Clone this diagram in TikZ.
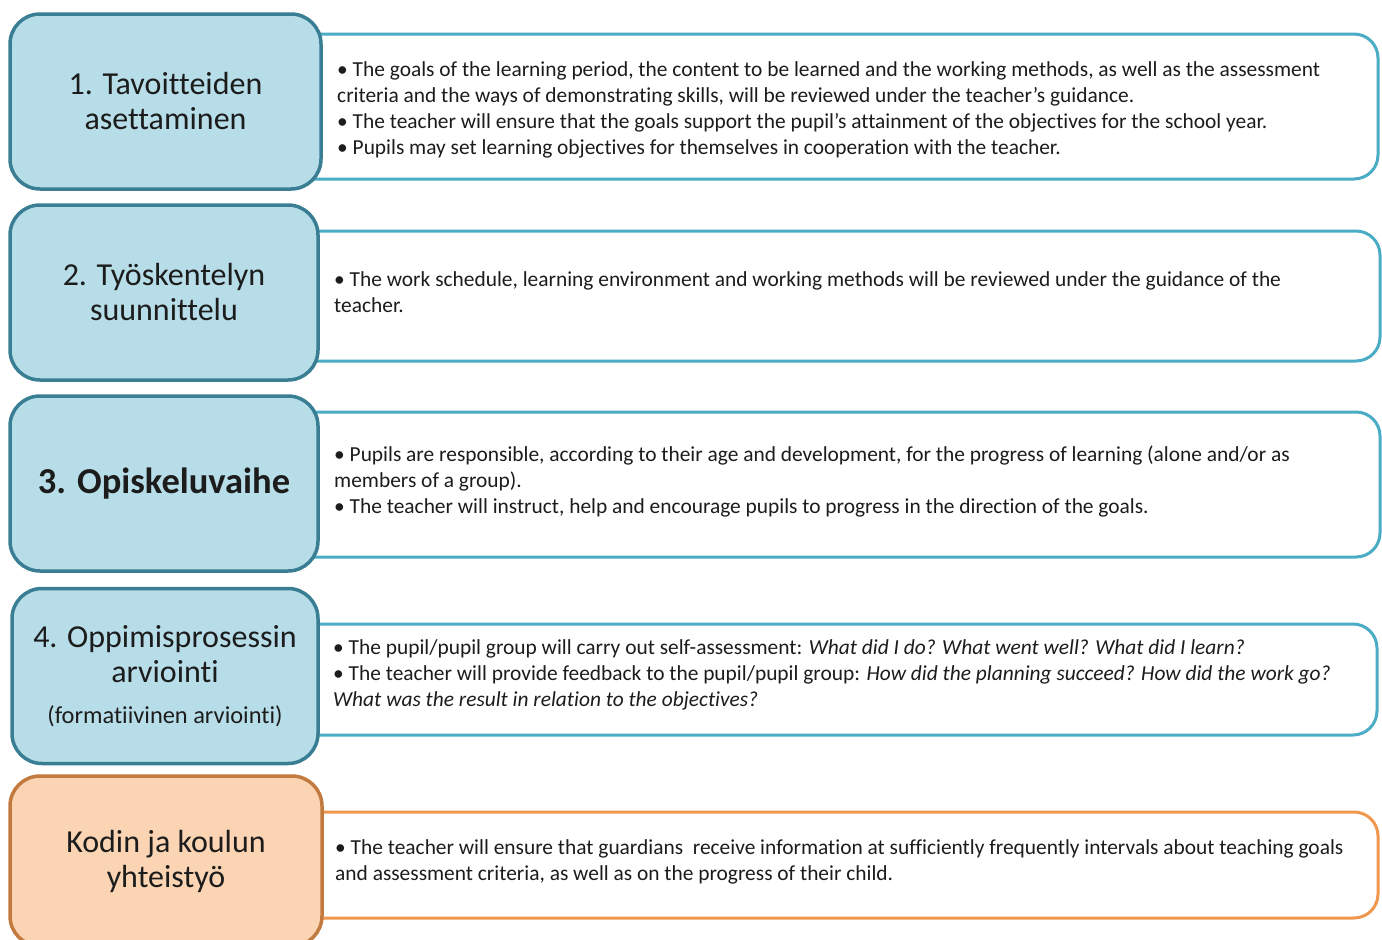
\documentclass[tikz,border=0pt]{standalone}
\usepackage{fontspec}
\setmainfont{Carlito}[Ligatures={NoCommon}]
\definecolor{lfill}{HTML}{B7DDE8}
\definecolor{lbord}{HTML}{3A7E94}
\definecolor{rbord}{HTML}{4BACC6}
\definecolor{ofill}{HTML}{FBD4B4}
\definecolor{obord}{HTML}{C27A3E}
\definecolor{rorange}{HTML}{F0974E}
\definecolor{txt}{HTML}{1C1C1C}
\begin{document}
\begin{tikzpicture}[x=1pt,y=-1pt,
  lbox/.style={draw=lbord, fill=lfill, line width=3.5pt, rounded corners=30pt, align=center, inner sep=0pt, text=txt, font=\fontsize{32}{35}\selectfont},
  obox/.style={lbox, draw=obord, fill=ofill},
  rbox/.style={draw=rbord, fill=white, line width=3pt, rounded corners=24pt, inner sep=0pt},
  orbox/.style={rbox, draw=rorange},
  rtext/.style={anchor=north west, align=left, inner sep=0pt, text=txt, font=\fontsize{21.4}{26}\selectfont}]
\useasboundingbox[fill=white] (0,0) rectangle (1382,940);
% right boxes
\node[rbox, minimum width=1128pt, minimum height=145pt] (r1) at (814,106.5) {};
\node[rbox, minimum width=1130pt, minimum height=130pt] (r2) at (815,296) {};
\node[rbox, minimum width=1130pt, minimum height=145pt] (r3) at (815,484.5) {};
\node[rbox, minimum width=1127pt, minimum height=111pt] (r4) at (813.5,679.5) {};
\node[orbox, minimum width=1128pt, minimum height=106pt] (r5) at (814,865) {};
% left boxes
\node[lbox, minimum width=311pt, minimum height=175pt] (l1) at (165.5,101.5) {1. Tavoitteiden\\asettaminen};
\node[lbox, minimum width=308pt, minimum height=175pt] (l2) at (164,292.5) {2. Työskentelyn\\suunnittelu};
\node[lbox, minimum width=308pt, minimum height=175pt, font=\bfseries\fontsize{36.5}{40}\selectfont] (l3) at (164,483.5) {3. Opiskeluvaihe};
\node[lbox, minimum width=306pt, minimum height=175pt] (l4) at (165,676) {4. Oppimisprosessin\\arviointi\\[6pt]{\fontsize{24.4}{28}\selectfont (formatiivinen arviointi)}};
\node[obox, minimum width=312pt, minimum height=170pt] (l5) at (166,861) {Kodin ja koulun\\yhteistyö};
% texts
\node[rtext] (t1) at (337,61) {• The goals of the learning period, the content to be learned and the working methods, as well as the assessment\\criteria and the ways of demonstrating skills, will be reviewed under the teacher’s guidance.\\• The teacher will ensure that the goals support the pupil’s attainment of the objectives for the school year.\\• Pupils may set learning objectives for themselves in cooperation with the teacher.};
\node[rtext] (t2) at (334,271) {• The work schedule, learning environment and working methods will be reviewed under the guidance of the\\teacher.};
\node[rtext] (t3) at (334,446) {• Pupils are responsible, according to their age and development, for the progress of learning (alone and/or as\\members of a group).\\• The teacher will instruct, help and encourage pupils to progress in the direction of the goals.};
\node[rtext] (t4) at (333,639) {• The pupil/pupil group will carry out self-assessment: \textit{What did I do? What went well? What did I learn?}\\• The teacher will provide feedback to the pupil/pupil group: \textit{How did the planning succeed? How did the work go?}\\\textit{What was the result in relation to the objectives?}};
\node[rtext] (t5) at (335,839) {• The teacher will ensure that guardians\ \ receive information at sufficiently frequently intervals about teaching goals\\and assessment criteria, as well as on the progress of their child.};
\end{tikzpicture}
\end{document}
